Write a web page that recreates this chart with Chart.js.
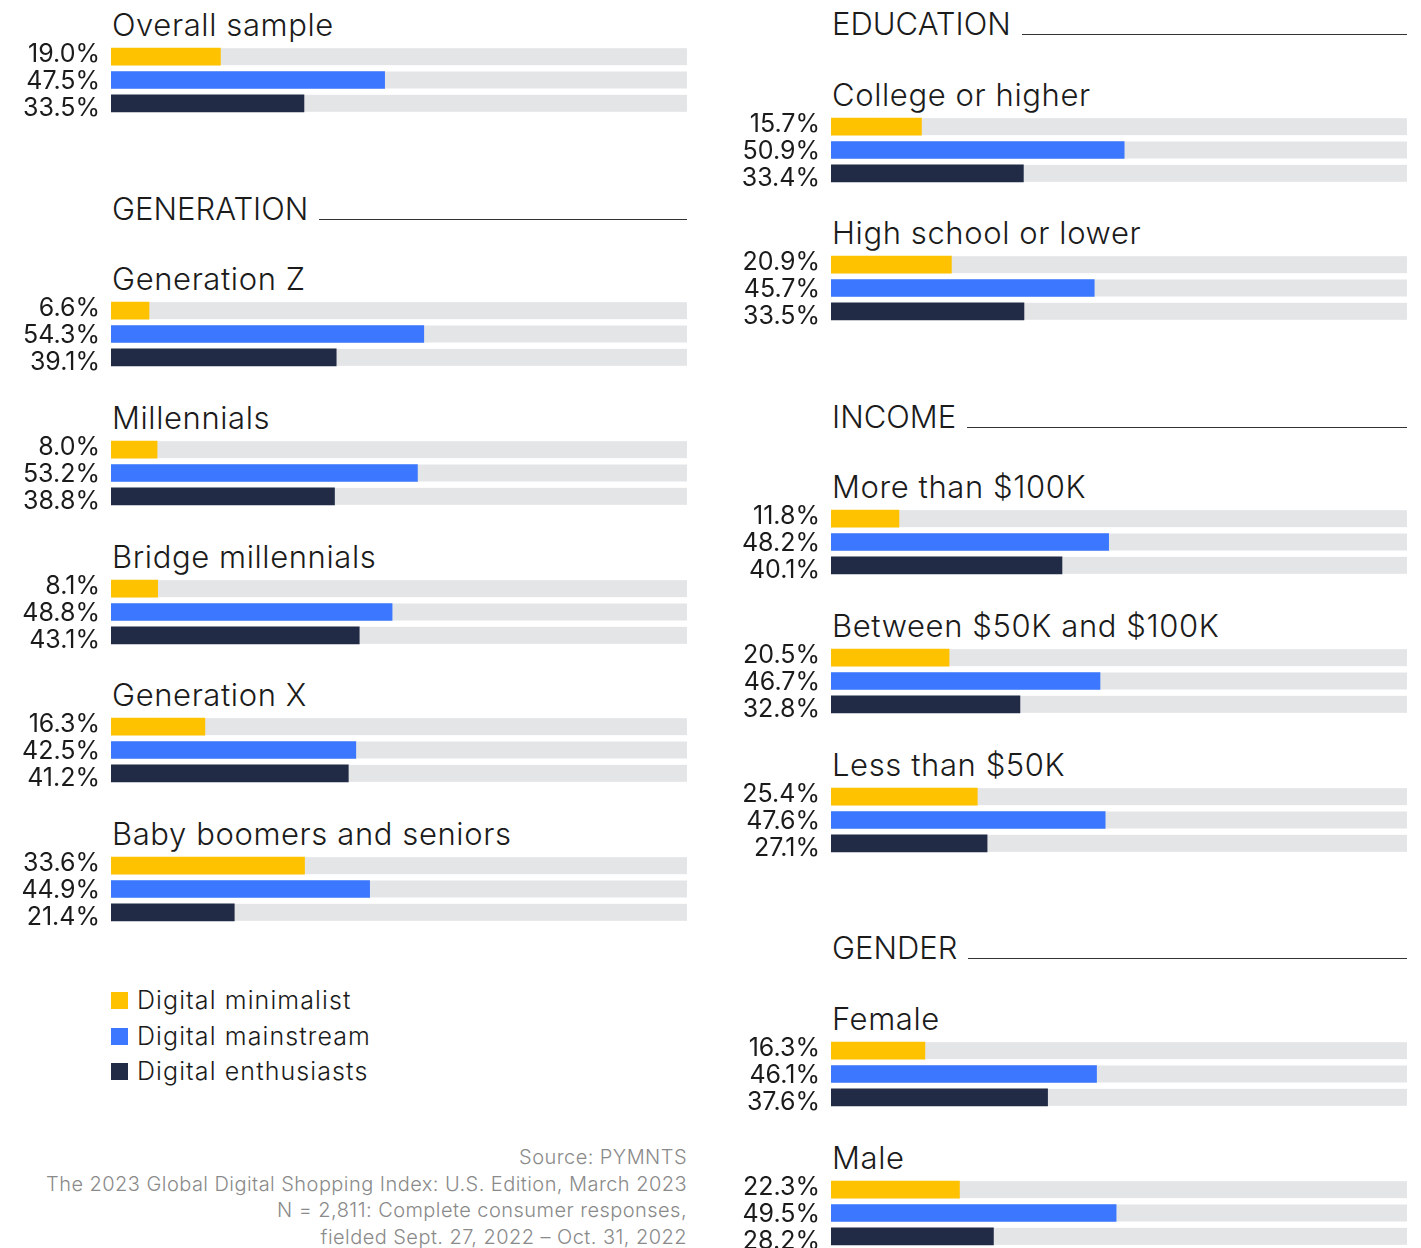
<!DOCTYPE html>
<html>
<head>
<meta charset="utf-8">
<script src="https://cdn.jsdelivr.net/npm/chart.js@4.4.1/dist/chart.umd.min.js"></script>
<style>
  body { margin: 0; background: #fff; font-family: 'Inter', sans-serif; color: #1b1b1b; }
  #page { position: relative; width: 1421px; height: 1248px; overflow: hidden; }
  .title { position: absolute; font-size: 31px; font-weight: 300; line-height: 1; white-space: nowrap; letter-spacing: 0.6px; }
  .section { position: absolute; font-size: 31px; font-weight: 300; line-height: 1; white-space: nowrap; background: #fff; padding-right: 11px; }
  .rule { position: absolute; height: 0; border-top: 1px solid #333; }
  .group { position: absolute; width: 687px; height: 76px; }
  .legend { position: absolute; left: 111px; font-size: 25px; font-weight: 300; line-height: 1; letter-spacing: 1.1px; }
  .legend div { position: relative; height: 35.5px; padding-left: 26px; }
  .legend span { position: absolute; left: 0; top: 4px; width: 17px; height: 17px; }
  .source { position: absolute; right: 734px; top: 1144px; text-align: right; color: #8a8a8a; font-size: 20px; font-weight: 300; line-height: 26.6px; letter-spacing: 0.45px; white-space: nowrap; }
</style>
</head>
<body>
<div id="page"></div>
<script>
// groups, in reading order: left column then right column
const groupNames = ['Overall sample', 'Generation Z', 'Millennials', 'Bridge millennials', 'Generation X',
  'Baby boomers and seniors', 'College or higher', 'High school or lower', 'More than $100K',
  'Between $50K and $100K', 'Less than $50K', 'Female', 'Male'];
const minimalist = [19.0, 6.6, 8.0, 8.1, 16.3, 33.6, 15.7, 20.9, 11.8, 20.5, 25.4, 16.3, 22.3];
const mainstream = [47.5, 54.3, 53.2, 48.8, 42.5, 44.9, 50.9, 45.7, 48.2, 46.7, 47.6, 46.1, 49.5];
const enthusiasts = [33.5, 39.1, 38.8, 43.1, 41.2, 21.4, 33.4, 33.5, 40.1, 32.8, 27.1, 37.6, 28.2];
const seriesNames = ['Digital minimalist', 'Digital mainstream', 'Digital enthusiasts'];
const sectionNames = ['GENERATION', 'EDUCATION', 'INCOME', 'GENDER'];
const sourceLines = ['Source: PYMNTS',
  'The 2023 Global Digital Shopping Index: U.S. Edition, March 2023',
  'N = 2,811: Complete consumer responses,',
  'fielded Sept. 27, 2022 – Oct. 31, 2022'];

const seriesColors = ['#FFC200', '#3B77FF', '#212B46'];
const trackColor = '#E4E5E7';

// layout: column x and top of first bar for each group
const groupPos = [[0, 48], [0, 302], [0, 441], [0, 580], [0, 718], [0, 857],
  [720, 118], [720, 256], [720, 510], [720, 649], [720, 788], [720, 1042], [720, 1181]];
// section headers: column x, baseline y
const sectionPos = [[0, 221], [720, 36], [720, 429], [720, 960]];

const page = document.getElementById('page');

// grey 0-100% track behind each bar, percentage label to its left
const trackPlugin = {
  id: 'track',
  beforeDatasetsDraw(chart) {
    const { ctx, scales: { x } } = chart;
    const x0 = x.getPixelForValue(0), x1 = x.getPixelForValue(100);
    ctx.save();
    ctx.fillStyle = trackColor;
    chart.getDatasetMeta(0).data.forEach(bar => {
      const { y, height } = bar.getProps(['y', 'height'], true);
      ctx.fillRect(x0, y - height / 2, x1 - x0, height);
    });
    ctx.restore();
  },
  afterDatasetsDraw(chart) {
    const { ctx, chartArea } = chart;
    const labels = chart.data.labels;
    ctx.save();
    ctx.fillStyle = '#1b1b1b';
    ctx.font = '400 25px Inter';
    ctx.textAlign = 'right';
    ctx.textBaseline = 'middle';
    // the labels sit a little wider apart than the bars
    chart.getDatasetMeta(0).data.forEach((bar, i) => {
      ctx.fillText(labels[i], chartArea.left - 11, bar.y + 1.5 + (i - 1) * 3.7);
    });
    ctx.restore();
  }
};

sectionNames.forEach((name, i) => {
  const [cx, base] = sectionPos[i];
  const rule = document.createElement('div');
  rule.className = 'rule';
  rule.style.left = (cx + 112) + 'px';
  rule.style.width = '575px';
  rule.style.top = (base - 2) + 'px';
  page.appendChild(rule);
  const el = document.createElement('div');
  el.className = 'section';
  el.textContent = name;
  el.style.left = (cx + 112) + 'px';
  el.style.top = (base - 28) + 'px';
  page.appendChild(el);
});

groupNames.forEach((name, i) => {
  const [cx, top] = groupPos[i];
  const t = document.createElement('div');
  t.className = 'title';
  t.textContent = name;
  t.style.left = (cx + 112) + 'px';
  t.style.top = (top - 39) + 'px';
  page.appendChild(t);

  const box = document.createElement('div');
  box.className = 'group';
  box.style.left = cx + 'px';
  box.style.top = (top - 6) + 'px';
  const canvas = document.createElement('canvas');
  box.appendChild(canvas);
  page.appendChild(box);

  const vals = [minimalist[i], mainstream[i], enthusiasts[i]];
  new Chart(canvas, {
    type: 'bar',
    data: {
      labels: vals.map(v => v.toFixed(1) + '%'),
      datasets: [{ data: vals, backgroundColor: seriesColors, barThickness: 17, borderWidth: 0 }]
    },
    options: {
      indexAxis: 'y',
      responsive: true,
      maintainAspectRatio: false,
      animation: false,
      devicePixelRatio: 1,
      layout: { padding: { top: 3, bottom: 3, left: 111, right: 0 } },
      plugins: { legend: { display: false }, tooltip: { enabled: false } },
      scales: {
        x: { display: false, min: 0, max: 100 },
        y: { display: false }
      }
    },
    plugins: [trackPlugin]
  });
});

// legend
const legend = document.createElement('div');
legend.className = 'legend';
legend.style.top = '988px';
seriesNames.forEach((n, i) => {
  const row = document.createElement('div');
  row.innerHTML = `<span style="background:${seriesColors[i]}"></span>${n}`;
  legend.appendChild(row);
});
page.appendChild(legend);

const src = document.createElement('div');
src.className = 'source';
src.innerHTML = sourceLines.join('<br>');
page.appendChild(src);
</script>
</body>
</html>
